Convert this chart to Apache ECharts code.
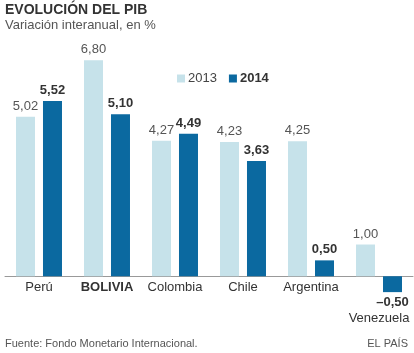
<!DOCTYPE html>
<html>
<head>
<meta charset="utf-8">
<script src="https://cdn.jsdelivr.net/npm/echarts@6/dist/echarts.min.js"></script>
<style>
  html, body { margin: 0; padding: 0; background: #fff; }
  #chart { width: 414px; height: 353px; }
</style>
</head>
<body>
<div id="chart"></div>
<script>
const countries = ["Perú", "BOLIVIA", "Colombia", "Chile", "Argentina", "Venezuela"];
const values2013 = [5.02, 6.80, 4.27, 4.23, 4.25, 1.00];
const values2014 = [5.52, 5.10, 4.49, 3.63, 0.50, -0.50];

const fontFamily = "Liberation Sans, Arial, sans-serif";
const light = "#c6e2ea";
const dark = "#0b69a0";

// 5,02 style, minus as en dash
function fmt(v) {
  const s = Math.abs(v).toFixed(2).replace(".", ",");
  return v < 0 ? "\u2013" + s : s;
}

const myChart = echarts.init(document.getElementById("chart"));

const option = {
  animation: false,
  textStyle: { fontFamily: fontFamily },
  title: [
    {
      text: "EVOLUCIÓN DEL PIB",
      left: 0,
      top: -2,
      textStyle: { fontSize: 14, fontWeight: "bold", color: "#333", fontFamily: fontFamily },
    },
    {
      text: "Variación interanual, en %",
      left: 0,
      top: 14,
      textStyle: { fontSize: 13, fontWeight: "normal", color: "#555", fontFamily: fontFamily },
    },
    {
      text: "Fuente: Fondo Monetario Internacional.",
      left: 0,
      top: 333,
      textStyle: { fontSize: 11, fontWeight: "normal", color: "#555", fontFamily: fontFamily },
    },
    {
      text: "EL PAÍS",
      right: 1,
      top: 333,
      textStyle: { fontSize: 11, fontWeight: "normal", color: "#555", fontFamily: fontFamily },
    },
  ],
  legend: {
    left: 172,
    top: 67,
    itemWidth: 8,
    itemHeight: 8,
    itemGap: 12,
    icon: "rect",
    data: [
      { name: "2013", textStyle: { color: "#444" } },
      { name: "2014", textStyle: { color: "#333", fontWeight: "bold" } },
    ],
    textStyle: { fontSize: 13, fontFamily: fontFamily, padding: [0, 0, 0, -2] },
  },
  grid: {
    left: 5,
    right: 1,
    top: 54,
    bottom: 45,
    containLabel: false,
  },
  xAxis: {
    type: "category",
    data: countries,
    offset: -32,
    axisTick: { show: false },
    axisLine: { show: true, onZero: false, lineStyle: { color: "#999", width: 1 } },
    axisLabel: {
      interval: 0,
      margin: 5,
      fontSize: 13,
      color: "#333",
      formatter: function (v) {
        if (v === "BOLIVIA") return "{b|" + v + "}";
        if (v === "Venezuela") return "{v|" + v + "}";
        return v;
      },
      rich: {
        b: { fontWeight: "bold", fontSize: 13, color: "#333", fontFamily: fontFamily },
        v: { fontSize: 13, color: "#333", fontFamily: fontFamily, padding: [31, 0, 0, 0] },
      },
    },
  },
  yAxis: {
    type: "value",
    min: -1,
    max: 7,
    show: false,
    splitLine: { show: false },
  },
  series: [
    {
      name: "2013",
      type: "bar",
      data: values2013,
      barWidth: 19,
      barGap: "42%",
      itemStyle: { color: light },
      label: {
        show: true,
        position: "top",
        distance: 4,
        fontSize: 13,
        color: "#555",
        formatter: (p) => fmt(p.value),
      },
    },
    {
      name: "2014",
      type: "bar",
      data: values2014.map((v) => ({
        value: v,
        label: { position: v < 0 ? "bottom" : "top" },
      })),
      barWidth: 19,
      itemStyle: { color: dark },
      label: {
        show: true,
        position: "top",
        distance: 4,
        fontSize: 13,
        fontWeight: "bold",
        color: "#333",
        formatter: (p) => fmt(p.value),
      },
    },
  ],
};

myChart.setOption(option);
</script>
</body>
</html>
